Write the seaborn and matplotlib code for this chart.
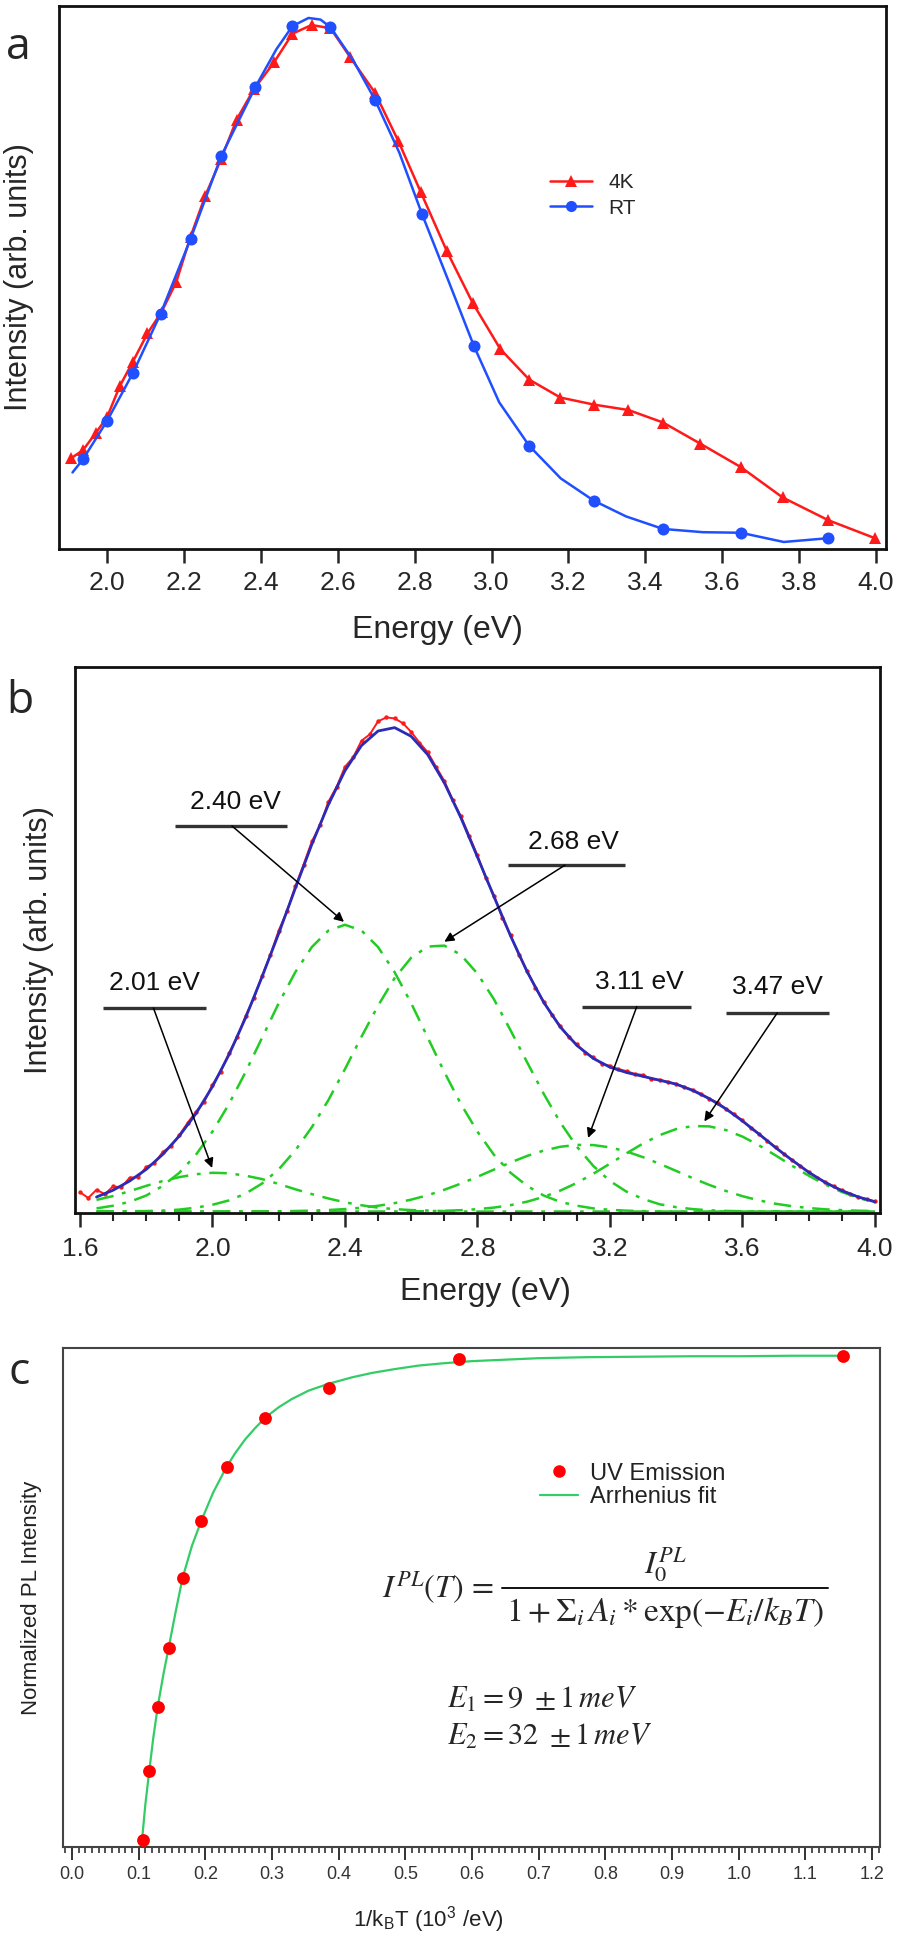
import numpy as np
import pandas as pd
import seaborn as sns
import matplotlib.pyplot as plt
from matplotlib.lines import Line2D
from matplotlib.ticker import MultipleLocator, FormatStrFormatter

## a. PL spectra, 4K vs RT ##
e_4k = [1.906, 1.937, 1.970, 2.000, 2.033, 2.067, 2.105, 2.142, 2.180, 2.217, 2.255, 2.297,
        2.337, 2.382, 2.434, 2.482, 2.532, 2.581, 2.632, 2.697, 2.757, 2.816, 2.884, 2.951,
        3.023, 3.098, 3.179, 3.266, 3.356, 3.446, 3.543, 3.648, 3.757, 3.876, 3.997]
i_4k = [0.167, 0.182, 0.213, 0.243, 0.300, 0.345, 0.397, 0.437, 0.492, 0.575, 0.650, 0.719,
        0.791, 0.847, 0.896, 0.949, 0.965, 0.959, 0.906, 0.840, 0.752, 0.657, 0.548, 0.453,
        0.368, 0.312, 0.279, 0.266, 0.256, 0.233, 0.194, 0.151, 0.095, 0.053, 0.020]

e_rt = [1.937, 2.000, 2.067, 2.139, 2.217, 2.297, 2.385, 2.482, 2.581, 2.697, 2.819, 2.954,
        3.098, 3.266, 3.446, 3.648, 3.876]
i_rt = [0.165, 0.236, 0.324, 0.433, 0.571, 0.724, 0.850, 0.963, 0.961, 0.827, 0.617, 0.374,
        0.190, 0.089, 0.037, 0.030, 0.020]

e_rt_line = [1.910, 1.937, 2.000, 2.067, 2.139, 2.217, 2.297, 2.385, 2.440, 2.482, 2.524, 2.555,
             2.581, 2.640, 2.697, 2.760, 2.819, 2.890, 2.954, 3.020, 3.098, 3.180, 3.266, 3.350,
             3.446, 3.550, 3.648, 3.760, 3.876]
i_rt_line = [0.141, 0.165, 0.236, 0.324, 0.433, 0.571, 0.724, 0.850, 0.920, 0.963, 0.978, 0.975,
             0.961, 0.900, 0.827, 0.730, 0.617, 0.490, 0.374, 0.270, 0.190, 0.130, 0.089, 0.060,
             0.037, 0.031, 0.030, 0.013, 0.020]

## b. Gaussian deconvolution ##
e_meas = [1.600, 1.625, 1.650, 1.675, 1.700, 1.725, 1.750, 1.775, 1.800, 1.825, 1.850, 1.875,
          1.900, 1.925, 1.950, 1.975, 2.000, 2.025, 2.050, 2.075, 2.100, 2.125, 2.150, 2.175,
          2.200, 2.225, 2.250, 2.275, 2.300, 2.325, 2.350, 2.375, 2.400, 2.425, 2.450, 2.475,
          2.500, 2.525, 2.550, 2.575, 2.600, 2.625, 2.650, 2.675, 2.700, 2.725, 2.750, 2.775,
          2.800, 2.825, 2.850, 2.875, 2.900, 2.925, 2.950, 2.975, 3.000, 3.025, 3.050, 3.075,
          3.100, 3.125, 3.150, 3.175, 3.200, 3.225, 3.250, 3.275, 3.300, 3.325, 3.350, 3.375,
          3.400, 3.425, 3.450, 3.475, 3.500, 3.525, 3.550, 3.575, 3.600, 3.625, 3.650, 3.675,
          3.700, 3.725, 3.750, 3.775, 3.800, 3.825, 3.850, 3.875, 3.900, 3.925, 3.950, 3.975,
          4.000]
i_meas = [0.040, 0.028, 0.045, 0.036, 0.052, 0.050, 0.070, 0.071, 0.092, 0.100, 0.123, 0.135,
          0.158, 0.183, 0.206, 0.226, 0.262, 0.289, 0.327, 0.360, 0.404, 0.440, 0.487, 0.530,
          0.580, 0.620, 0.671, 0.716, 0.764, 0.797, 0.846, 0.877, 0.918, 0.938, 0.972, 0.985,
          1.012, 1.020, 1.018, 1.008, 0.990, 0.968, 0.948, 0.918, 0.889, 0.850, 0.816, 0.776,
          0.735, 0.689, 0.652, 0.606, 0.570, 0.530, 0.497, 0.462, 0.433, 0.405, 0.383, 0.360,
          0.345, 0.328, 0.318, 0.305, 0.301, 0.294, 0.290, 0.284, 0.282, 0.273, 0.272, 0.268,
          0.263, 0.257, 0.251, 0.243, 0.233, 0.225, 0.212, 0.201, 0.188, 0.172, 0.160, 0.146,
          0.133, 0.118, 0.106, 0.094, 0.082, 0.070, 0.061, 0.052, 0.044, 0.037, 0.030, 0.026,
          0.021]

e_fit = [1.65, 1.70, 1.75, 1.80, 1.85, 1.90, 1.95, 2.00, 2.05, 2.10, 2.15, 2.20,
         2.25, 2.30, 2.35, 2.40, 2.45, 2.50, 2.55, 2.60, 2.65, 2.70, 2.75, 2.80,
         2.85, 2.90, 2.95, 3.00, 3.05, 3.10, 3.15, 3.20, 3.25, 3.30, 3.35, 3.40,
         3.45, 3.50, 3.55, 3.60, 3.65, 3.70, 3.75, 3.80, 3.85, 3.90, 3.95, 4.00]
i_fit = [0.030, 0.044, 0.063, 0.087, 0.118, 0.156, 0.202, 0.258, 0.324, 0.400, 0.485, 0.574,
         0.667, 0.758, 0.840, 0.910, 0.962, 0.992, 0.999, 0.981, 0.943, 0.885, 0.813, 0.732,
         0.650, 0.569, 0.495, 0.432, 0.381, 0.343, 0.316, 0.298, 0.287, 0.279, 0.271, 0.263,
         0.250, 0.233, 0.212, 0.187, 0.160, 0.132, 0.106, 0.081, 0.060, 0.043, 0.030, 0.020]

g_201 = [0.024, 0.032, 0.042, 0.053, 0.063, 0.071, 0.077, 0.080, 0.079, 0.074, 0.067, 0.057,
         0.046, 0.036, 0.027, 0.019, 0.013, 0.008, 0.005, 0.003, 0.002, 0.001, 0.0, 0.0,
         0.0, 0.0, 0.0, 0.0, 0.0, 0.0, 0.0, 0.0, 0.0, 0.0, 0.0, 0.0,
         0.0, 0.0, 0.0, 0.0, 0.0, 0.0, 0.0, 0.0, 0.0, 0.0, 0.0, 0.0]
g_240 = [0.0065, 0.012, 0.020, 0.033, 0.053, 0.080, 0.117, 0.165, 0.222, 0.288, 0.359, 0.430,
         0.494, 0.546, 0.580, 0.592, 0.580, 0.546, 0.494, 0.430, 0.359, 0.288, 0.222, 0.165,
         0.117, 0.080, 0.053, 0.033, 0.020, 0.012, 0.0065, 0.0036, 0.0018, 0.0009, 0.0, 0.0,
         0.0, 0.0, 0.0, 0.0, 0.0, 0.0, 0.0, 0.0, 0.0, 0.0, 0.0, 0.0]
g_268 = [0.0, 0.0002, 0.0006, 0.001, 0.002, 0.004, 0.008, 0.014, 0.023, 0.037, 0.058, 0.087,
         0.126, 0.174, 0.230, 0.294, 0.361, 0.425, 0.482, 0.524, 0.547, 0.549, 0.530, 0.491,
         0.438, 0.374, 0.308, 0.243, 0.184, 0.134, 0.094, 0.063, 0.041, 0.026, 0.015, 0.009,
         0.005, 0.0025, 0.0013, 0.0006, 0.0, 0.0, 0.0, 0.0, 0.0, 0.0, 0.0, 0.0]
g_311 = [0.0, 0.0, 0.0, 0.0, 0.0, 0.0, 0.0, 0.0, 0.0001, 0.0002, 0.0003, 0.0006,
         0.0011, 0.0019, 0.0031, 0.0051, 0.0079, 0.0119, 0.0174, 0.0246, 0.0337, 0.0449, 0.0577, 0.0718,
         0.0867, 0.1013, 0.1148, 0.1259, 0.1337, 0.1376, 0.1372, 0.1325, 0.1239, 0.1122, 0.0985, 0.0838,
         0.0689, 0.0549, 0.0425, 0.0317, 0.0230, 0.0161, 0.0110, 0.0072, 0.0046, 0.0029, 0.0017, 0.0010]
g_347 = [0.0, 0.0, 0.0, 0.0, 0.0, 0.0, 0.0, 0.0, 0.0, 0.0, 0.0, 0.0,
         0.0, 0.0, 0.0, 0.0, 0.0, 0.0001, 0.0002, 0.0004, 0.0008, 0.0015, 0.0028, 0.0049,
         0.0082, 0.0132, 0.0204, 0.0303, 0.0432, 0.0591, 0.0781, 0.0988, 0.1202, 0.1405, 0.1577, 0.1703,
         0.1765, 0.1758, 0.1682, 0.1547, 0.1366, 0.1159, 0.0945, 0.0740, 0.0558, 0.0404, 0.0280, 0.0188]

peak_labels = ['2.01 eV', '2.40 eV', '2.68 eV', '3.11 eV', '3.47 eV']

## c. Arrhenius plot ##
inv_kt = [0.106, 0.116, 0.129, 0.145, 0.166, 0.194, 0.232, 0.290, 0.386, 0.580, 1.157]
pl_norm = [0.014, 0.155, 0.285, 0.405, 0.548, 0.664, 0.774, 0.874, 0.935, 0.994, 1.000]
inv_kt_fit = [0.105, 0.110, 0.116, 0.122, 0.129, 0.137, 0.145, 0.155, 0.166, 0.180, 0.194, 0.212,
              0.232, 0.245, 0.260, 0.275, 0.290, 0.310, 0.330, 0.355, 0.385, 0.420, 0.450, 0.485,
              0.520, 0.560, 0.600, 0.650, 0.700, 0.770, 0.850, 0.930, 1.000, 1.080, 1.157]
pl_fit = [0.012, 0.085, 0.155, 0.222, 0.288, 0.350, 0.405, 0.475, 0.548, 0.613, 0.664, 0.722,
          0.774, 0.802, 0.830, 0.853, 0.874, 0.895, 0.912, 0.929, 0.943, 0.956, 0.965, 0.973,
          0.980, 0.985, 0.989, 0.992, 0.995, 0.997, 0.998, 0.999, 0.999, 1.000, 1.000]

sns.set_style('white')
plt.rcParams['font.family'] = ['Liberation Sans', 'DejaVu Sans']
plt.rcParams['mathtext.fontset'] = 'stix'

fig = plt.figure(figsize=(9, 19.38), dpi=100)
ax_a = fig.add_axes([0.0656, 0.7167, 0.9189, 0.2802])
ax_b = fig.add_axes([0.0833, 0.3741, 0.8944, 0.2817])
ax_c = fig.add_axes([0.0700, 0.0470, 0.9078, 0.2575])

# ---- panel a ----
red = '#ff1a1a'
blue_a = '#1f4fff'
sns.lineplot(x=e_4k, y=i_4k, ax=ax_a, color=red, lw=1.8, marker='^', markersize=9,
             markeredgewidth=0, sort=False)
sns.lineplot(x=e_rt_line, y=i_rt_line, ax=ax_a, color=blue_a, lw=1.8, sort=False)
sns.scatterplot(x=e_rt, y=i_rt, ax=ax_a, color=blue_a, s=75, linewidth=0, zorder=3)
ax_a.set_xlim(1.875, 4.026)
ax_a.set_ylim(0, 1.0)
ax_a.xaxis.set_major_locator(MultipleLocator(0.2))
ax_a.xaxis.set_major_formatter(FormatStrFormatter('%.1f'))
ax_a.set_yticks([])
ax_a.tick_params(axis='x', direction='out', length=10, width=1.8, labelsize=19, pad=6,
                 bottom=True)
ax_a.set_xlabel('Energy (eV)', fontsize=23, va='center')
ax_a.xaxis.set_label_coords(0.458, -0.149)
ax_a.set_ylabel('Intensity (arb. units)', fontsize=22, va='center')
ax_a.yaxis.set_label_coords(-0.049, 0.5)
handles_a = [Line2D([], [], color=red, lw=1.8, marker='^', markersize=9, markeredgewidth=0),
             Line2D([], [], color=blue_a, lw=1.8, marker='o', markersize=8, markeredgewidth=0)]
ax_a.legend(handles_a, ['4K', 'RT'], loc='upper left', bbox_to_anchor=(0.594, 0.692),
            frameon=False, fontsize=15, handlelength=2.0, handletextpad=0.8,
            labelspacing=0.3, borderpad=0, borderaxespad=0)

# ---- panel b ----
green = '#22cc22'
sns.lineplot(x=e_meas, y=i_meas, ax=ax_b, color=red, lw=1.4, sort=False)
sns.scatterplot(x=e_meas, y=i_meas, ax=ax_b, color=red, s=10, linewidth=0)
for comp in [g_201, g_240, g_268, g_311, g_347]:
    sns.lineplot(x=e_fit, y=comp, ax=ax_b, color=green, lw=1.8,
                 linestyle=(0, (7, 3.5, 1.5, 3.5)), sort=False)
sns.lineplot(x=e_fit, y=i_fit, ax=ax_b, color='#2b2bb8', lw=2.0, sort=False)

ann = {
    '2.01 eV': ((1.825, 0.472), (1.669, 1.981, 0.420), (1.822, 0.420), (1.999, 0.090)),
    '2.40 eV': ((2.068, 0.845), (1.886, 2.224, 0.796), (2.059, 0.796), (2.397, 0.598)),
    '2.68 eV': ((3.090, 0.763), (2.891, 3.246, 0.715), (3.064, 0.715), (2.700, 0.557)),
    '3.11 eV': ((3.290, 0.474), (3.116, 3.445, 0.423), (3.281, 0.423), (3.134, 0.152)),
    '3.47 eV': ((3.705, 0.464), (3.549, 3.861, 0.410), (3.705, 0.410), (3.485, 0.186)),
}
for lab in peak_labels:
    txt, bar, start, tip = ann[lab]
    ax_b.text(txt[0], txt[1], lab, fontsize=19, ha='center', va='center', color='#111111')
    ax_b.hlines(bar[2], bar[0], bar[1], color='#333333', lw=2.4)
    ax_b.annotate('', xy=tip, xytext=start,
                  arrowprops=dict(arrowstyle='-|>', color='black', lw=1.1,
                                  mutation_scale=14, shrinkA=0, shrinkB=0))
ax_b.set_xlim(1.585, 4.015)
ax_b.set_ylim(-0.003, 1.124)
ax_b.xaxis.set_major_locator(MultipleLocator(0.4))
ax_b.xaxis.set_minor_locator(MultipleLocator(0.1))
ax_b.xaxis.set_major_formatter(FormatStrFormatter('%.1f'))
ax_b.set_yticks([])
ax_b.tick_params(axis='x', which='major', direction='out', length=10, width=1.8,
                 labelsize=19, pad=7, bottom=True)
ax_b.tick_params(axis='x', which='minor', direction='out', length=5.5, width=1.5, bottom=True)
ax_b.set_xlabel('Energy (eV)', fontsize=23, va='center')
ax_b.xaxis.set_label_coords(0.51, -0.145)
ax_b.set_ylabel('Intensity (arb. units)', fontsize=22, va='center')
ax_b.yaxis.set_label_coords(-0.045, 0.5)

# ---- panel c ----
fit_green = '#33cc66'
sns.lineplot(x=inv_kt_fit, y=pl_fit, ax=ax_c, color=fit_green, lw=1.6, sort=False)
sns.scatterplot(x=inv_kt, y=pl_norm, ax=ax_c, color='#ff0000', s=85, linewidth=0, zorder=3)
ax_c.set_xlim(-0.0134, 1.212)
ax_c.set_ylim(0, 1.016)
ax_c.xaxis.set_major_locator(MultipleLocator(0.1))
ax_c.xaxis.set_minor_locator(MultipleLocator(0.01))
ax_c.xaxis.set_major_formatter(FormatStrFormatter('%.1f'))
ax_c.set_yticks([])
ax_c.tick_params(axis='x', which='major', direction='out', length=9, width=1.4,
                 labelsize=13, pad=5, bottom=True, colors='#333333')
ax_c.tick_params(axis='x', which='minor', direction='out', length=4.5, width=1.2,
                 bottom=True, colors='#333333')
ax_c.set_xlabel(r'1/k$_\mathregular{B}$T (10$^\mathregular{3}$ /eV)', fontsize=16,
                va='center', color='#222222')
ax_c.xaxis.set_label_coords(0.447, -0.146)
ax_c.set_ylabel('Normalized PL Intensity', fontsize=16, va='center', color='#222222')
ax_c.yaxis.set_label_coords(-0.038, 0.5)
handles_c = [Line2D([], [], color='#ff0000', lw=0, marker='o', markersize=9, markeredgewidth=0),
             Line2D([], [], color=fit_green, lw=1.6)]
ax_c.legend(handles_c, ['UV Emission', 'Arrhenius fit'], loc='upper left',
            bbox_to_anchor=(0.584, 0.770), frameon=False, fontsize=17, handlelength=1.6,
            handletextpad=0.5, labelspacing=0.05, borderpad=0, borderaxespad=0,
            labelcolor='#222222')

# Arrhenius expression, written as a stacked fraction
ax_c.text(0.527, 0.519, r'$I^{PL}(T)\,=$', transform=ax_c.transAxes,
          fontsize=23, ha='right', va='center')
ax_c.plot([0.537, 0.936], [0.519, 0.519], transform=ax_c.transAxes, color='#111111', lw=1.4)
ax_c.text(0.737, 0.566, r'$I_0^{PL}$', transform=ax_c.transAxes,
          fontsize=23, ha='center', va='center')
ax_c.text(0.737, 0.470, r'$1 + \Sigma_i\, A_i * \mathrm{exp}(-E_i/k_BT)$',
          transform=ax_c.transAxes, fontsize=24, ha='center', va='center')
ax_c.text(0.47, 0.295, r'$E_1 = 9\ \pm 1\,meV$', transform=ax_c.transAxes,
          fontsize=22, ha='left', va='center')
ax_c.text(0.47, 0.220, r'$E_2 = 32\ \pm 1\,meV$', transform=ax_c.transAxes,
          fontsize=22, ha='left', va='center')

for ax in (ax_a, ax_b):
    for sp in ax.spines.values():
        sp.set_visible(True)
        sp.set_color('#111111')
        sp.set_linewidth(2.0)
for sp in ax_c.spines.values():
    sp.set_visible(True)
    sp.set_color('#444444')
    sp.set_linewidth(1.5)

fig.text(0.020, 0.9752, 'a', fontsize=32, ha='center', va='center', family='Open Sans')
fig.text(0.022, 0.6378, 'b', fontsize=32, ha='center', va='center', family='Open Sans')
fig.text(0.021, 0.2915, 'c', fontsize=32, ha='center', va='center', family='Open Sans')

fig.savefig('out.png', dpi=100)
